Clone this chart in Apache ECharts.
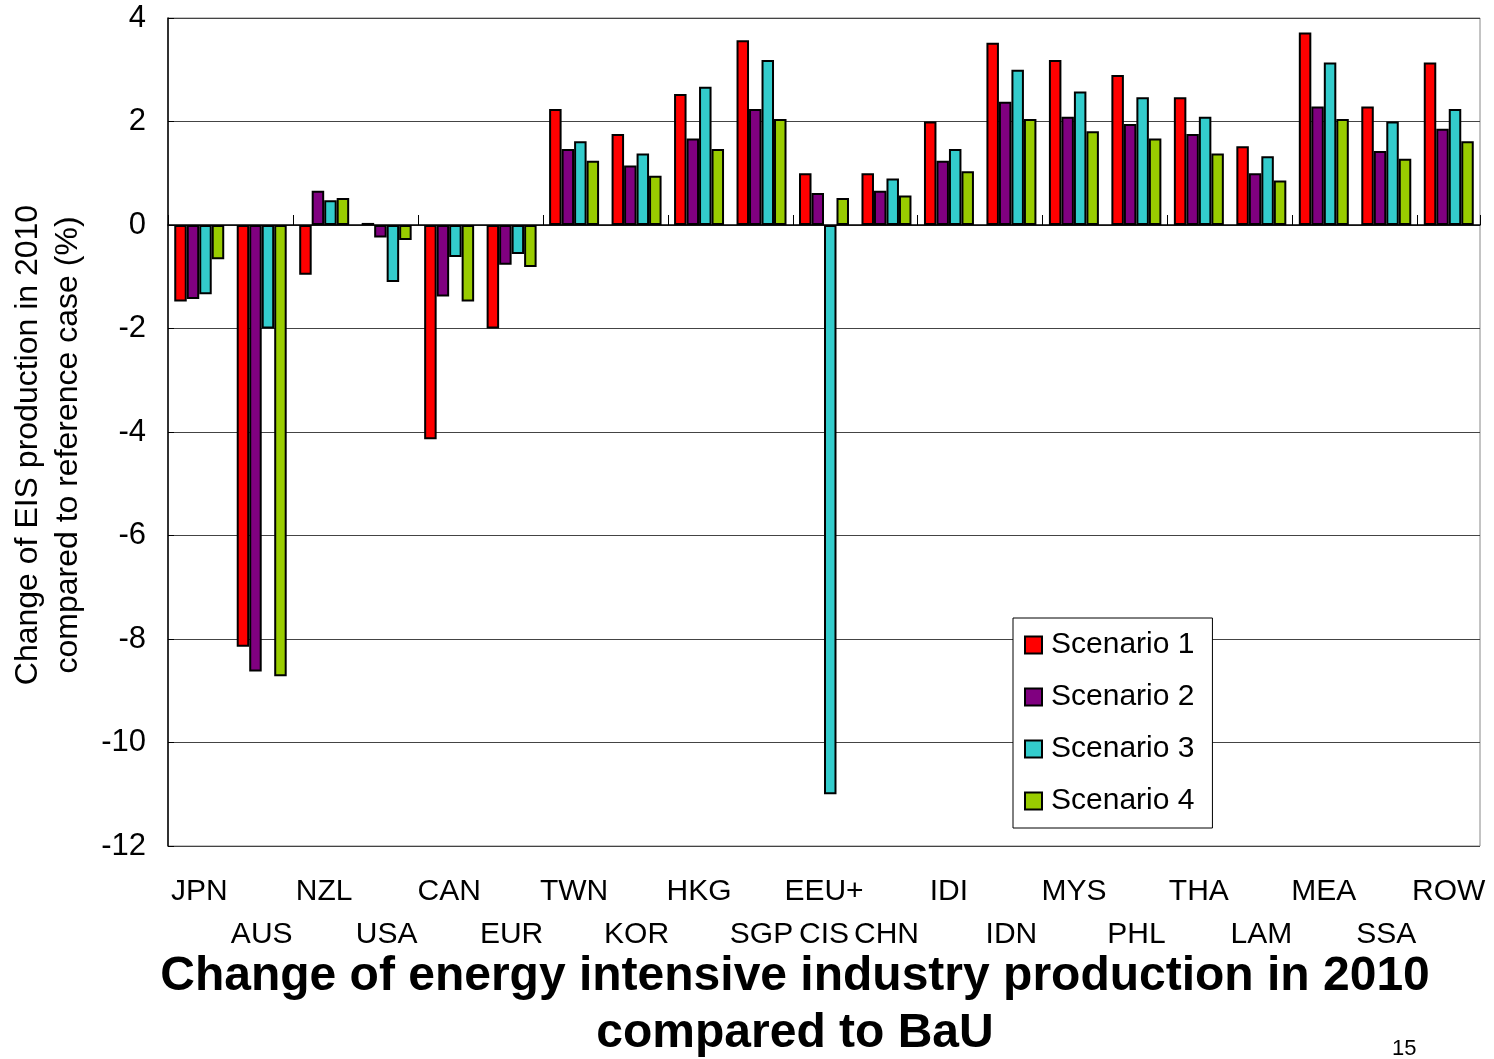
<!DOCTYPE html>
<html>
<head>
<meta charset="utf-8">
<script src="https://cdn.jsdelivr.net/npm/echarts@6/dist/echarts.min.js"></script>
<style>html,body{margin:0;padding:0;background:#fff}#c{width:1494px;height:1059px}</style>
</head>
<body>
<div id="c"></div>
<script>
const categories = ['JPN','AUS','NZL','USA','CAN','EUR','TWN','KOR','HKG','SGP','EEU+CIS','CHN','IDI','IDN','MYS','PHL','THA','LAM','MEA','SSA','ROW'];
const scenario1 = [-1.48,-8.15,-0.96,0.04,-4.14,-2.0,2.24,1.76,2.53,3.57,1.0,1.0,2.0,3.52,3.19,2.9,2.47,1.52,3.72,2.29,3.14];
const scenario2 = [-1.43,-8.63,0.66,-0.24,-1.38,-0.77,1.47,1.15,1.67,2.24,0.62,0.66,1.24,2.38,2.09,1.95,1.76,1.0,2.29,1.43,1.86];
const scenario3 = [-1.34,-2.0,0.48,-1.1,-0.62,-0.56,1.62,1.38,2.67,3.19,-11.0,0.9,1.47,3.0,2.58,2.47,2.09,1.33,3.14,2.0,2.24];
const scenario4 = [-0.66,-8.72,0.52,-0.29,-1.48,-0.81,1.24,0.95,1.47,2.05,0.52,0.57,1.04,2.05,1.81,1.67,1.38,0.86,2.05,1.28,1.62];
const seriesNames = ['Scenario 1','Scenario 2','Scenario 3','Scenario 4'];
const colors = ['#FF0000','#800080','#33CCCC','#99CC00'];
const yTicks = {min:-12, max:4, interval:2};

const font = 'Liberation Sans, Arial, sans-serif';
const chart = echarts.init(document.getElementById('c'));
const data = [scenario1, scenario2, scenario3, scenario4];
chart.setOption({
  animation:false,
  backgroundColor:'#fff',
  title:{
    text:'Change of energy intensive industry production in 2010\ncompared to BaU',
    left:790, top:943, textAlign:'center',
    textStyle:{fontFamily:font, fontSize:48, fontWeight:'bold', color:'#000', lineHeight:57}
  },
  graphic:[{type:'text', left:1392, top:1038, style:{text:'15', font:'22px '+font, fill:'#000'}}],
  legend:{
    orient:'vertical', left:1013, top:618, data:seriesNames, icon:'rect',
    backgroundColor:'#fff', borderColor:'#000', borderWidth:1,
    padding:[10,18,10,11], itemWidth:17, itemHeight:17, itemGap:18,
    textStyle:{fontFamily:font, fontSize:30, color:'#000', lineHeight:34, padding:[0,0,0,4]}
  },
  grid:{left:168, right:14, top:18, bottom:213, show:true, borderColor:'#888', borderWidth:1, outerBoundsMode:'none', containLabel:false},
  xAxis:[{
    type:'category', data:categories, position:'bottom',
    axisLine:{show:false, onZero:false}, axisTick:{show:false},
    axisLabel:{interval:0, margin:24, fontFamily:font, fontSize:30, color:'#000', lineHeight:43,
      formatter:function(v,i){ if(v==='EEU+CIS') return 'EEU+\nCIS'; return i%2===1 ? '\n'+v : v; }}
  },{
    type:'category', data:categories, position:'bottom',
    axisLine:{show:true, onZero:true, lineStyle:{color:'#000', width:1.5}},
    axisTick:{show:true, inside:true, length:10, lineStyle:{color:'#000'}},
    axisLabel:{show:false}
  }],
  yAxis:{
    type:'value', min:yTicks.min, max:yTicks.max, interval:yTicks.interval,
    name:'Change of EIS production in 2010\ncompared to reference case (%)',
    nameLocation:'middle', nameGap:80,
    nameTextStyle:{fontFamily:font, fontSize:32, color:'#000', lineHeight:40, padding:[0,26,0,0]},
    axisLine:{show:true, lineStyle:{color:'#000', width:1.5}},
    axisTick:{show:true, inside:true, length:6, lineStyle:{color:'#000'}},
    axisLabel:{fontFamily:font, fontSize:31, color:'#000', margin:22},
    splitLine:{show:true, lineStyle:{color:'#444', width:1}}
  },
  series: seriesNames.map((n,k)=>({
    name:n, type:'bar', data:data[k], xAxisIndex:0,
    barGap:'0%', barCategoryGap:'20%',
    itemStyle:{color:colors[k], borderColor:'#000', borderWidth:2}
  }))
});
</script>
</body>
</html>
